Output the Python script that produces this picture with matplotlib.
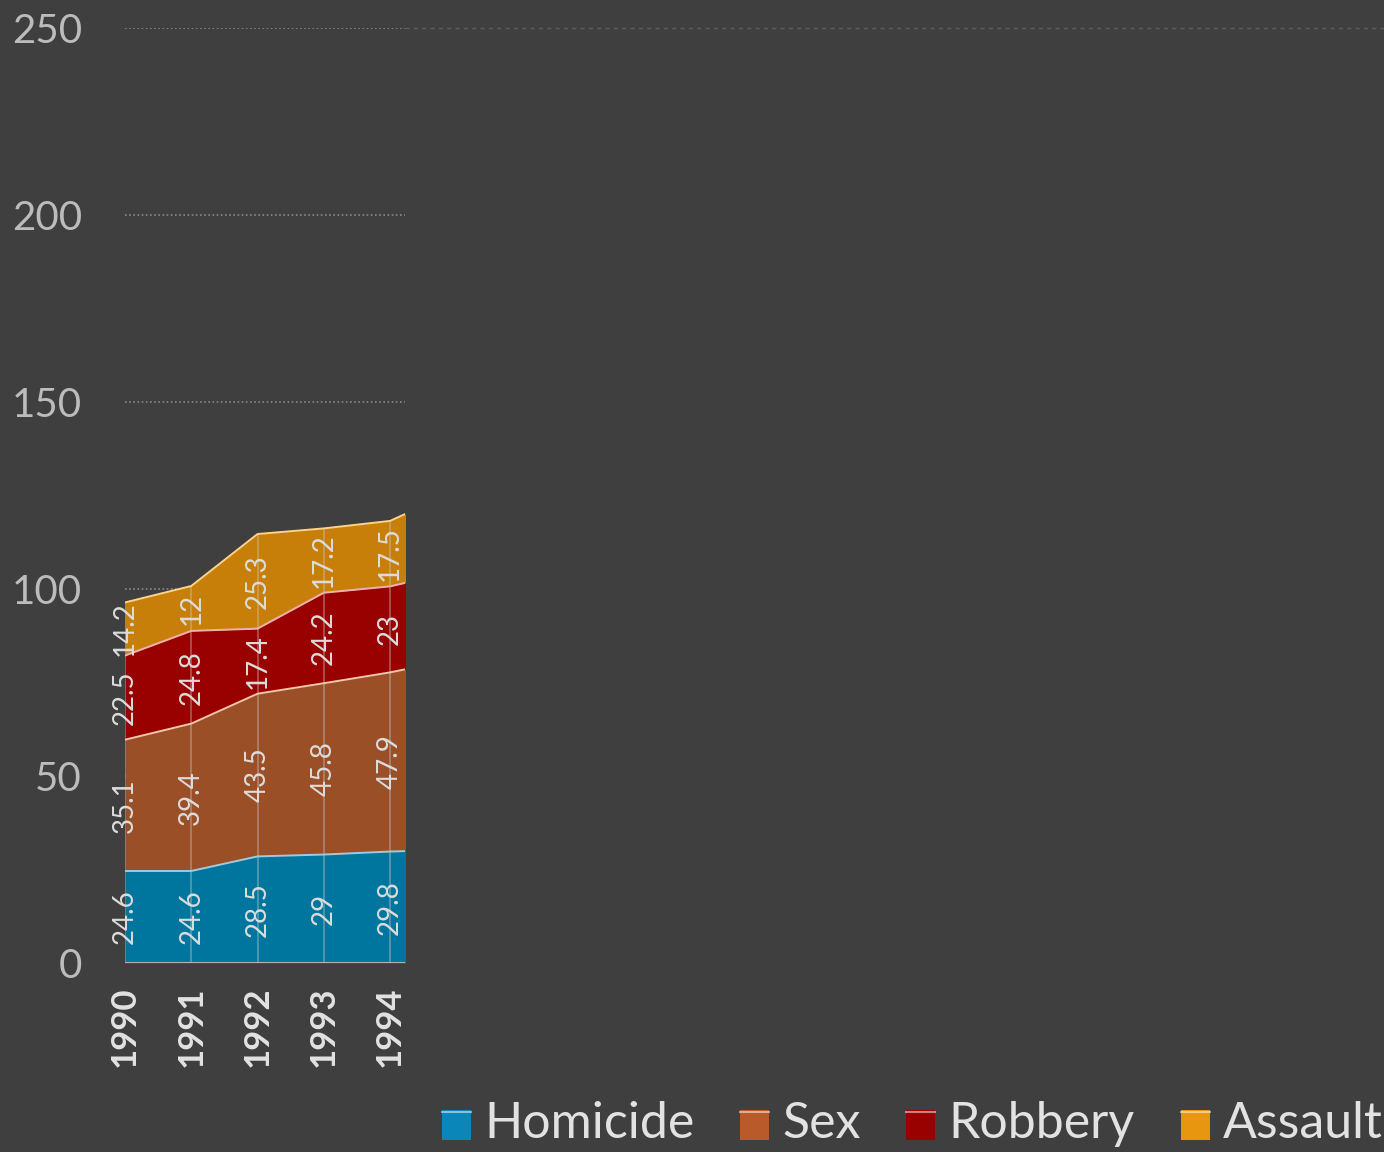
import matplotlib
matplotlib.use("Agg")
import matplotlib.pyplot as plt
import matplotlib.patches as mpatches
from matplotlib.lines import Line2D
import numpy as np

plt.rcParams["font.family"] = ["Lato", "DejaVu Sans"]

years = [1990, 1991, 1992, 1993, 1994, 1995]
homicide = [24.6, 24.6, 28.5, 29.0, 29.8, 30.3]
sex = [35.1, 39.4, 43.5, 45.8, 47.9, 51.0]
robbery = [22.5, 24.8, 17.4, 24.2, 23.0, 23.5]
assault = [14.2, 12.0, 25.3, 17.2, 17.5, 21.5]

series_names = ["Homicide", "Sex", "Robbery", "Assault"]
fill_colors = ["#00769f", "#9a4f27", "#990000", "#c77f0a"]
edge_colors = ["#9fcbe0", "#f2c8a8", "#f0b0b0", "#ffd488"]
legend_colors = ["#0a86b8", "#b95a2a", "#990000", "#e8960f"]

BG = "#3f3f3f"
labeled_years = years[:5]

fig = plt.figure(figsize=(13.84, 11.52), dpi=100, facecolor=BG)
ax = fig.add_axes([125 / 1384, 1 - 963 / 1152, 280 / 1384, 935 / 1152])
ax.set_facecolor(BG)

x = np.array(years, dtype=float)
data = np.array([homicide, sex, robbery, assault])
cum = np.cumsum(data, axis=0)
base = np.zeros_like(x)

for i in range(4):
    ax.fill_between(x, base, cum[i], color=fill_colors[i], lw=0, zorder=2)
    ax.plot(x, cum[i], color=edge_colors[i], lw=1.4, zorder=4)
    base = cum[i]

# faint year lines through the stacked areas only
ax.vlines(labeled_years, 0, cum[3][:5], color="#c8c8c8", lw=1.2, alpha=0.45, zorder=3)
ax.axhline(0, color="#b0b0b0", lw=1.5, zorder=4)

# value labels centred in each band
for i in range(4):
    lower = cum[i] - data[i]
    for j, yr in enumerate(labeled_years):
        v = data[i][j]
        ax.text(yr, lower[j] + v / 2, f"{v:g}", rotation=90, ha="center", va="center",
                fontsize=20, color="#dcdcdc", zorder=5, clip_on=False)

ax.set_xlim(1990, 1994.226)
ax.set_ylim(0, 250)
ax.set_yticks(np.arange(0, 251, 50))
ax.set_xticks(labeled_years)
ax.set_xticklabels([str(y) for y in labeled_years], rotation=90, fontsize=25,
                   fontweight="bold", color="#e2e2e2", va="top")
ax.tick_params(axis="x", length=0, pad=17)
ax.tick_params(axis="y", length=0, pad=31, labelsize=29, labelcolor="#bcbcbc")
for s in ax.spines.values():
    s.set_visible(False)
ax.grid(axis="y", color="#8a8a8a", linestyle=(0, (1, 1.5)), lw=1.2, zorder=1)
ax.set_axisbelow(True)

# top border running on to the right edge
fig.add_artist(Line2D([405 / 1384, 1.0], [1 - 28 / 1152, 1 - 28 / 1152],
                      transform=fig.transFigure, color="#5e5e5e", lw=1,
                      linestyle=(0, (3, 3))))

# legend along the bottom
leg_x = [442, 740, 906, 1181]
for name, col, lx in zip(series_names, legend_colors, leg_x):
    fig.add_artist(mpatches.Rectangle((lx / 1384, 1 - 1140 / 1152), 29 / 1384, 30 / 1152,
                                      transform=fig.transFigure, facecolor=col,
                                      edgecolor="none"))
    fig.add_artist(Line2D([lx / 1384, (lx + 29) / 1384], [1 - 1112 / 1152] * 2,
                          transform=fig.transFigure, color="#ffffff", alpha=0.5, lw=1.5))
    fig.text((lx + 42) / 1384, 1 - 1124 / 1152, name, fontsize=36, color="#e2e2e2",
             va="center", ha="left")

fig.savefig("out.png", dpi=100, facecolor=BG)
